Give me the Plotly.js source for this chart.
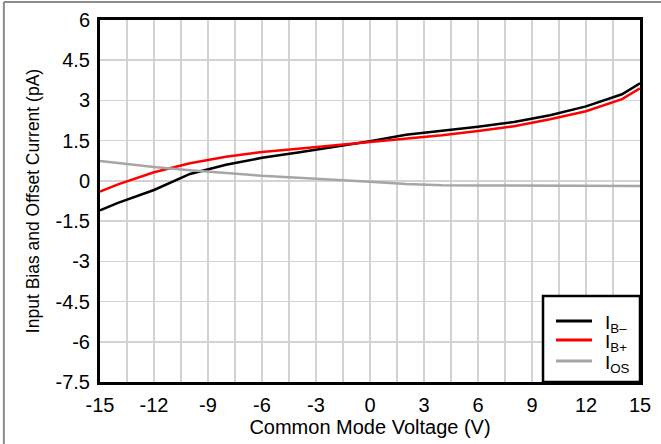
<!DOCTYPE html>
<html>
<head>
<meta charset="utf-8">
<script src="https://cdn.plot.ly/plotly-3.0.1.min.js"></script>
<style>
  html, body { margin: 0; padding: 0; background: #fff; }
  #chart { width: 661px; height: 444px; }
</style>
</head>
<body>
<div id="chart"></div>
<script>
// Common mode voltage sweep (V)
const vcm = [-15, -14, -12, -10, -8, -6, -4, -2, 0, 2, 4, 6, 8, 10, 12, 14, 15];

// Input bias current, inverting input (pA)
const ibMinus = [-1.10, -0.82, -0.34, 0.26, 0.60, 0.86, 1.06, 1.26, 1.48, 1.72, 1.86, 2.02, 2.20, 2.45, 2.78, 3.23, 3.64];

// Input bias current, non-inverting input (pA)
const ibPlus = [-0.40, -0.13, 0.32, 0.66, 0.90, 1.08, 1.20, 1.33, 1.46, 1.57, 1.70, 1.86, 2.04, 2.30, 2.60, 3.05, 3.45];

// Input offset current (pA)
const ios = [0.74, 0.66, 0.52, 0.40, 0.30, 0.19, 0.12, 0.05, -0.03, -0.12, -0.16, -0.17, -0.18, -0.18, -0.18, -0.19, -0.19];

const seriesNames = ['I<sub>B\u2013</sub>', 'I<sub>B+</sub>', 'I<sub>OS</sub>'];
const seriesColors = ['#000000', '#ff0000', '#a6a6a6'];
const seriesValues = [ibMinus, ibPlus, ios];

const xTicks = [-15, -12, -9, -6, -3, 0, 3, 6, 9, 12, 15];
const yTicks = [-7.5, -6, -4.5, -3, -1.5, 0, 1.5, 3, 4.5, 6];

const traces = seriesValues.map((vals, i) => ({
  x: vcm,
  y: vals,
  name: seriesNames[i],
  type: 'scatter',
  mode: 'lines',
  line: { color: seriesColors[i], width: 2.5 },
  showlegend: false
}));

const fam = 'Liberation Sans, Arial, sans-serif';
const f = (size) => ({ family: fam, size: size, color: '#000' });

// Compact legend box in the lower-right corner of the plot (paper coords)
const legBox = { x0: 0.8204, x1: 1.0, y0: 0.0, y1: 0.2376 };
const legLineX = [0.8444, 0.9111];
const legTextX = 0.9315;
const legRowY = [0.1685, 0.1160, 0.0580];

const shapes = [
  // thin grey frame along the top and left of the figure
  { type: 'line', xref: 'paper', yref: 'paper', x0: -0.178, x1: 1.05, y0: 1.05, y1: 1.05,
    line: { color: '#8c8c8c', width: 2 } },
  { type: 'line', xref: 'paper', yref: 'paper', x0: -0.178, x1: -0.178, y0: 1.05, y1: -0.2,
    line: { color: '#8c8c8c', width: 2 } },
  { type: 'rect', xref: 'paper', yref: 'paper', x0: legBox.x0, x1: legBox.x1, y0: legBox.y0, y1: legBox.y1,
    fillcolor: '#fff', line: { color: '#000', width: 2.5 }, layer: 'above' }
];
const annotations = [];
seriesNames.forEach((name, i) => {
  shapes.push({ type: 'line', xref: 'paper', yref: 'paper',
    x0: legLineX[0], x1: legLineX[1], y0: legRowY[i], y1: legRowY[i],
    line: { color: seriesColors[i], width: 3 }, layer: 'above' });
  annotations.push({ xref: 'paper', yref: 'paper', x: legTextX, y: legRowY[i],
    xanchor: 'left', yanchor: 'middle', yshift: -3, showarrow: false,
    text: name, font: f(19) });
});

const layout = {
  width: 661,
  height: 444,
  margin: { l: 100, r: 21, t: 20, b: 62 },
  paper_bgcolor: '#fff',
  plot_bgcolor: '#fff',
  font: f(20),
  showlegend: false,
  xaxis: {
    range: [-15, 15],
    tickmode: 'array',
    tickvals: xTicks,
    ticktext: xTicks.map(String),
    ticks: '',
    ticklabelstandoff: 3,
    showgrid: true,
    gridcolor: '#d3d3d3',
    gridwidth: 1.5,
    minor: { dtick: 1.5, tick0: -15, showgrid: true, gridcolor: '#d3d3d3', gridwidth: 1.5 },
    zeroline: false,
    showline: true,
    linecolor: '#000',
    linewidth: 3,
    mirror: true,
    tickfont: f(20),
    title: { text: 'Common Mode Voltage (V)', font: f(20), standoff: 1 }
  },
  yaxis: {
    range: [-7.5, 6],
    tickmode: 'array',
    tickvals: yTicks,
    ticktext: yTicks.map(String),
    ticks: '',
    ticklabelstandoff: 3,
    showgrid: true,
    gridcolor: '#d3d3d3',
    gridwidth: 1.5,
    zeroline: false,
    showline: true,
    linecolor: '#000',
    linewidth: 3,
    mirror: true,
    tickfont: f(20),
    title: { text: 'Input Bias and Offset Current (pA)', font: f(17.5), standoff: 12 }
  },
  shapes: shapes,
  annotations: annotations
};

Plotly.newPlot('chart', traces, layout, { displayModeBar: false, staticPlot: true });
</script>
</body>
</html>
